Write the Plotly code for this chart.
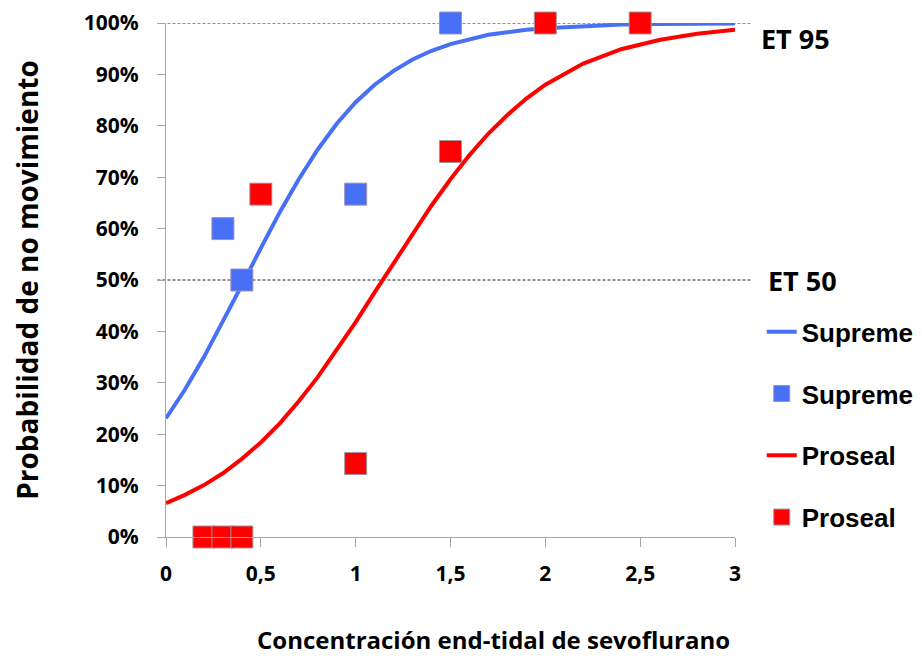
import plotly.graph_objects as go

# Fitted curves
curve_x = [0, 0.1, 0.2, 0.3, 0.4, 0.5, 0.6, 0.7, 0.8, 0.9, 1.0, 1.1, 1.2, 1.3, 1.4,
           1.5, 1.6, 1.7, 1.8, 1.9, 2.0, 2.2, 2.4, 2.6, 2.8, 3.0]
supreme_curve = [0.231, 0.287, 0.350, 0.418, 0.490, 0.562, 0.632, 0.696, 0.754, 0.804,
                 0.846, 0.880, 0.907, 0.929, 0.946, 0.959, 0.969, 0.977, 0.982, 0.987,
                 0.990, 0.994, 0.997, 0.998, 0.999, 0.999]
proseal_curve = [0.066, 0.082, 0.101, 0.124, 0.152, 0.184, 0.221, 0.264, 0.311, 0.363,
                 0.418, 0.476, 0.533, 0.590, 0.645, 0.696, 0.743, 0.785, 0.821, 0.853,
                 0.880, 0.921, 0.949, 0.967, 0.979, 0.987]

# Observed points
supreme_x = [0.3, 0.4, 1.0, 1.5]
supreme_y = [0.60, 0.50, 0.667, 1.0]
proseal_x = [0.2, 0.3, 0.4, 0.5, 1.0, 1.5, 2.0, 2.5]
proseal_y = [0.0, 0.0, 0.0, 0.667, 0.143, 0.75, 1.0, 1.0]

ref_levels = [0.5, 1.0]
ref_labels = ["ET 50", "ET 95"]

x_title = "Concentración end-tidal de sevoflurano"
y_title = "Probabilidad de no movimiento"

BLUE = "#4870F6"
RED = "#FF0000"
EDGE = "rgba(160,145,185,1)"
FONT = "Open Sans"

fig = go.Figure()
fig.add_trace(go.Scatter(x=curve_x, y=supreme_curve, mode="lines", name="Supreme",
                         line=dict(color=BLUE, width=4), legendgroup="a", legendrank=1))
fig.add_trace(go.Scatter(x=curve_x, y=proseal_curve, mode="lines", name="Proseal",
                         line=dict(color=RED, width=4), legendgroup="c", legendrank=3))
fig.add_trace(go.Scatter(x=supreme_x, y=supreme_y, mode="markers", name="Supreme",
                         marker=dict(symbol="square", size=22, color=BLUE,
                                     line=dict(color=EDGE, width=1)),
                         cliponaxis=False, legendgroup="b", legendrank=2))
fig.add_trace(go.Scatter(x=proseal_x, y=proseal_y, mode="markers", name="Proseal",
                         marker=dict(symbol="square", size=22, color=RED,
                                     line=dict(color="rgba(160,150,160,1)", width=1)),
                         cliponaxis=False, legendgroup="d", legendrank=4))

for lv, lab, xo, yl in zip(ref_levels, ref_labels, [1.055, 1.043], [0.5, 0.97]):
    fig.add_shape(type="line", xref="paper", yref="y", x0=-0.015, x1=1.03, y0=lv, y1=lv,
                  line=dict(color="#222222", width=1, dash="3px,2px"), layer="below")
    fig.add_annotation(xref="paper", yref="y", x=xo, y=yl, text=lab,
                       showarrow=False, xanchor="left", yanchor="middle",
                       font=dict(family=FONT, size=27, color="black", weight="bold"))

fig.add_annotation(xref="paper", yref="paper", x=0.575, y=-0.2, text=x_title,
                   showarrow=False, xanchor="center", yanchor="middle",
                   font=dict(family=FONT, size=24, color="black", weight="bold"))

tickfont = dict(family=FONT, size=21, color="black", weight="bold")
fig.update_layout(
    width=914, height=651,
    margin=dict(l=158, r=187, t=15, b=122, autoexpand=False),
    plot_bgcolor="white", paper_bgcolor="white",
    separators=",.",
    showlegend=True,
    legend=dict(x=1.047, y=0.445, xanchor="left", yanchor="top",
                font=dict(family="Liberation Sans", size=26, color="black", weight="bold"),
                tracegroupgap=25, itemsizing="trace", bgcolor="rgba(0,0,0,0)"),
    xaxis=dict(range=[0, 3], dtick=0.5, tick0=0, showgrid=False, zeroline=False,
               automargin=False,
               showline=True, linecolor="#A6A6A6", linewidth=1,
               ticks="outside", ticklen=9, tickcolor="#A6A6A6",
               tickfont=tickfont, ticklabelstandoff=9),
    yaxis=dict(range=[0, 1], dtick=0.1, tick0=0, tickformat=".0%", showgrid=False,
               automargin=False,
               zeroline=False, showline=True, linecolor="#A6A6A6", linewidth=1,
               ticks="outside", ticklen=8, tickcolor="#A6A6A6",
               tickfont=tickfont, ticklabelstandoff=14,
               title=dict(text=y_title,
                          font=dict(family=FONT, size=28, color="black", weight="bold"),
                          standoff=42)),
)

fig.write_html("out.html")
